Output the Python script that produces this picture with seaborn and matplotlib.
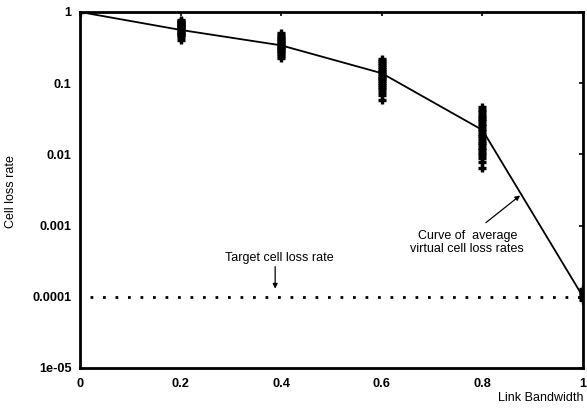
import matplotlib
matplotlib.use("Agg")
import matplotlib.pyplot as plt
import seaborn as sns
import pandas as pd

# average curve
bandwidth = [0.0, 0.2, 0.4, 0.6, 0.8, 1.0]
avg_loss = [1.0, 0.56, 0.34, 0.138, 0.022, 0.0001]

# individual virtual cell loss rates (scatter '+')
sc_x_00 = [0.0]
sc_y_00 = [1.0]
sc_x_02 = [0.2] * 17
sc_y_02 = [0.78, 0.75, 0.72, 0.70, 0.67, 0.65, 0.63, 0.61, 0.59, 0.57, 0.55, 0.53,
           0.51, 0.49, 0.47, 0.44, 0.40]
sc_x_04 = [0.4] * 17
sc_y_04 = [0.50, 0.47, 0.45, 0.43, 0.41, 0.39, 0.37, 0.355, 0.34, 0.325, 0.31, 0.30,
           0.285, 0.27, 0.255, 0.24, 0.225]
sc_x_06 = [0.6] * 20
sc_y_06 = [0.22, 0.205, 0.19, 0.18, 0.17, 0.16, 0.15, 0.142, 0.135, 0.128, 0.12, 0.113,
           0.106, 0.10, 0.094, 0.088, 0.082, 0.076, 0.068, 0.058]
sc_x_08 = [0.8] * 24
sc_y_08 = [0.046, 0.042, 0.039, 0.036, 0.033, 0.031, 0.029, 0.027, 0.025, 0.023, 0.021,
           0.0195, 0.018, 0.0168, 0.0156, 0.0145, 0.0135, 0.0125, 0.0115, 0.0105,
           0.0097, 0.0088, 0.0078, 0.0065]
sc_x_10 = [1.0] * 6
sc_y_10 = [0.000128, 0.00012, 0.000112, 0.000105, 0.000098, 0.00009]

target_rate = 0.0001

xticks = [0, 0.2, 0.4, 0.6, 0.8, 1]
xticklabels = ["0", "0.2", "0.4", "0.6", "0.8", "1"]
yticks = [1e-5, 1e-4, 1e-3, 1e-2, 1e-1, 1]
yticklabels = ["1e-05", "0.0001", "0.001", "0.01", "0.1", "1"]

sns.set_theme(style="white")
plt.rcParams['font.family'] = ['Liberation Sans', 'DejaVu Sans']

fig = plt.figure(figsize=(5.87, 4.09), dpi=100)
ax = fig.add_axes([80 / 587, 1 - 368 / 409, (583 - 80) / 587, (368 - 12) / 409])

scat = pd.DataFrame({
    "x": sc_x_00 + sc_x_02 + sc_x_04 + sc_x_06 + sc_x_08 + sc_x_10,
    "y": sc_y_00 + sc_y_02 + sc_y_04 + sc_y_06 + sc_y_08 + sc_y_10,
})
line = pd.DataFrame({"x": bandwidth, "y": avg_loss})

sns.lineplot(data=line, x="x", y="y", ax=ax, color="black", linewidth=1.3)
sns.scatterplot(data=scat, x="x", y="y", ax=ax, marker="+", color="black",
                s=40, linewidth=2.4, zorder=4)
ax.axhline(target_rate, xmin=0.02, color="black", linestyle=(0, (1, 3.5)), linewidth=2.0)

ax.set_yscale("log")
ax.set_xlim(0, 1)
ax.set_ylim(1e-5, 1)
ax.set_xticks(xticks)
ax.set_xticklabels(xticklabels)
ax.set_yticks(yticks)
ax.set_yticklabels(yticklabels)
ax.minorticks_off()
ax.tick_params(axis="both", which="major", direction="in", length=3, width=1.2,
               labelsize=9.2, top=True, right=True, colors="black")
ax.tick_params(axis="y", pad=6)
ax.tick_params(axis="x", pad=7)
for lab in ax.get_xticklabels() + ax.get_yticklabels():
    lab.set_fontweight("bold")
for sp in ax.spines.values():
    sp.set_color("black")
    sp.set_linewidth(2)

ax.set_xlabel("")
ax.set_ylabel("")
fig.text(11 / 587, 1 - 192 / 409, "Cell loss rate", rotation=90, ha="center",
         va="center", fontsize=9, color="black")
fig.text(1 - 3 / 587, 1 - 398 / 409, "Link Bandwidth", ha="right", va="center",
         fontsize=9, color="black")

ax.text(0.396, 3.5e-4, "Target cell loss rate", ha="center", va="center",
        fontsize=9, color="black")
ax.annotate("", xy=(0.388, 1.3e-4), xytext=(0.388, 2.65e-4),
            arrowprops=dict(arrowstyle="-|>", color="black", lw=0.9,
                            mutation_scale=7, shrinkA=0, shrinkB=0))
ax.text(0.77, 5.8e-4, "Curve of  average\nvirtual cell loss rates", ha="center",
        va="center", fontsize=9, color="black", linespacing=1.05)
ax.annotate("", xy=(0.875, 0.00265), xytext=(0.807, 0.0011),
            arrowprops=dict(arrowstyle="-|>", color="black", lw=0.9,
                            mutation_scale=7, shrinkA=0, shrinkB=0))

fig.savefig("out.png", dpi=100)
